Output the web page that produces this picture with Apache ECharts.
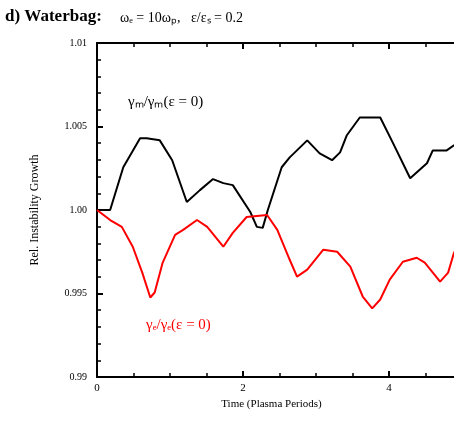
<!DOCTYPE html>
<html><head><meta charset="utf-8">
<script src="https://cdn.jsdelivr.net/npm/echarts@6/dist/echarts.min.js"></script>
<style>html,body{margin:0;padding:0;background:#fff}#c{width:454px;height:426px}</style>
</head><body><div id="c"></div>
<script>
var blackX = [0,0.18,0.36,0.59,0.68,0.86,1.03,1.23,1.41,1.59,1.73,1.86,2.10,2.19,2.27,2.34,2.53,2.64,2.88,3.05,3.22,3.33,3.42,3.60,3.88,4.05,4.29,4.52,4.60,4.79,4.89,5.0];
var blackY = [1.0,1.0,1.00256,1.00429,1.00429,1.00417,1.00298,1.00048,1.00119,1.00185,1.00161,1.00149,0.99988,0.99899,0.99893,1.0,1.00256,1.00315,1.00417,1.00339,1.00298,1.00345,1.00446,1.00554,1.00554,1.00405,1.0019,1.0028,1.00357,1.00357,1.00387,1.0040];
var redX = [0,0.18,0.34,0.49,0.62,0.73,0.79,0.90,1.07,1.18,1.37,1.51,1.73,1.86,2.05,2.33,2.47,2.64,2.74,2.88,3.10,3.29,3.47,3.64,3.77,3.88,4.01,4.19,4.38,4.49,4.70,4.81,4.89,5.0];
var redY = [1.0,0.9994,0.99899,0.9978,0.99625,0.99476,0.99506,0.99685,0.99851,0.99881,0.9994,0.99899,0.9978,0.99863,0.99958,0.9997,0.99881,0.99702,0.99601,0.99643,0.99762,0.9975,0.99661,0.99482,0.99411,0.99464,0.99583,0.9969,0.99714,0.99685,0.99571,0.99625,0.99744,0.9982];
var yTickLabels = {"0.99":"0.99","0.995":"0.995","1":"1.00","1.005":"1.005","1.01":"1.01"};
var titleText = "d) Waterbag:";
var titleSub = "ω\u2091 = 10ωₚ,   ε/εₛ = 0.2";
var blackLabel = "γₘ/γₘ(ε = 0)";
var redLabel = "γₑ/γₑ(ε = 0)";
var xName = "Time (Plasma Periods)";
var yName = "Rel. Instability Growth";

function pairs(xs, ys){ return xs.map(function(x,i){return [x, ys[i]];}); }
var font = "Liberation Serif";
var chart = echarts.init(document.getElementById('c'));
function ax(extra){
  return Object.assign({
    type:'value',
    axisLine:{show:true, onZero:false, lineStyle:{color:'#000', width:2}},
    axisTick:{show:true, inside:true, length:6, lineStyle:{color:'#000', width:2}},
    axisLabel:{show:false},
    splitLine:{show:false}
  }, extra);
}
function minor(extra){
  return Object.assign({
    type:'value',
    axisLine:{show:false},
    axisTick:{show:true, inside:true, length:4, lineStyle:{color:'#000', width:1.5}},
    axisLabel:{show:false},
    splitLine:{show:false}
  }, extra);
}
chart.setOption({
  animation:false,
  textStyle:{fontFamily:font},
  grid:{left:97, top:43, height:334, width:365, containLabel:false, outerBoundsMode:'none'},
  xAxis:[
    ax({min:0, max:5, interval:2, position:'bottom',
      axisLabel:{show:true, color:'#000', fontSize:11, fontFamily:font, margin:6},
      name:xName, nameLocation:'middle', nameGap:22, nameTextStyle:{color:'#000', fontSize:11, fontFamily:font, padding:[0,0,0,-16]}}),
    ax({min:0, max:5, interval:2, position:'top'}),
    minor({min:0, max:5, interval:0.5, position:'bottom'}),
    minor({min:0, max:5, interval:0.5, position:'top'})
  ],
  yAxis:[
    ax({min:0.99, max:1.01, interval:0.005, position:'left',
      axisLabel:{show:true, color:'#000', fontSize:10, fontFamily:font, margin:10, formatter:function(v){var k=String(Math.round(v*1000)/1000); return yTickLabels[k]!==undefined?yTickLabels[k]:k;}},
      name:yName, nameLocation:'middle', nameGap:56, nameRotate:90, nameTextStyle:{color:'#000', fontSize:12, fontFamily:font}}),
    ax({min:0.99, max:1.01, interval:0.005, position:'right'}),
    minor({min:0.99, max:1.01, interval:0.001, position:'left'})
  ],
  series:[
    {type:'line', data:pairs(blackX, blackY), showSymbol:false, lineStyle:{color:'#000', width:2}, itemStyle:{color:'#000'}},
    {type:'line', data:pairs(redX, redY), showSymbol:false, lineStyle:{color:'#ff0000', width:2}, itemStyle:{color:'#ff0000'}}
  ],
  graphic:[
    {type:'text', left:5, top:8, style:{text:titleText, font:'bold 17px '+font, fill:'#000'}},
    {type:'text', left:120, top:11, style:{text:titleSub, font:'14px '+font, fill:'#000'}},
    {type:'text', left:128, top:95, style:{text:blackLabel, font:'15px '+font, fill:'#000'}},
    {type:'text', left:146, top:318, style:{text:redLabel, font:'15px '+font, fill:'#ff0000'}}
  ]
});
</script></body></html>
